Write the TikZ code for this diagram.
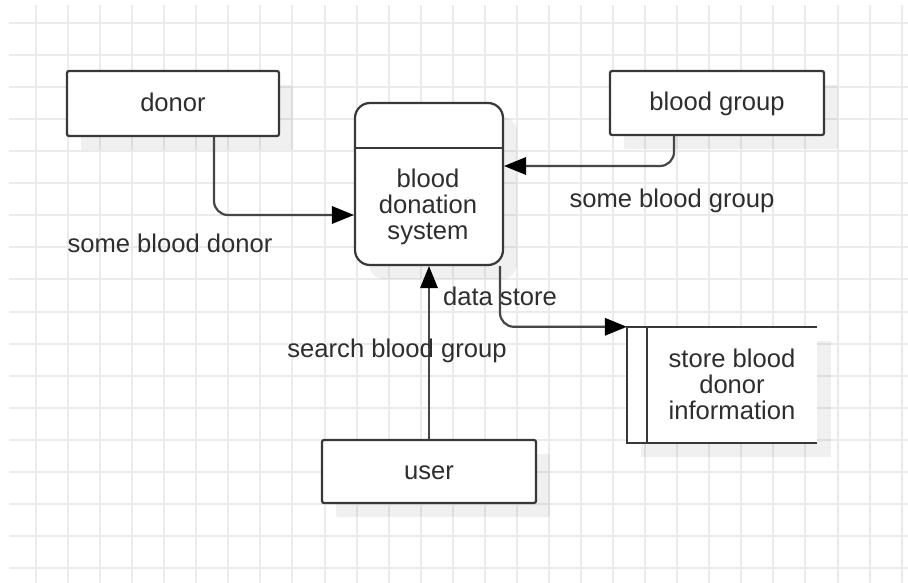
\documentclass[tikz,border=0pt]{standalone}
\usepackage{fontspec}
\setmainfont{Liberation Sans}
\usetikzlibrary{arrows.meta,shadows}

\definecolor{gridline}{HTML}{EBEBEB}
\definecolor{boxline}{HTML}{383838}
\definecolor{flowline}{HTML}{464646}
\definecolor{ink}{HTML}{2E2E2E}

\tikzset{
  txt/.style={font=\fontsize{25.6}{26}\selectfont, text=ink, inner sep=0pt},
  oneline/.style={txt, text height=21.7pt, text depth=5.9pt},
  boxshadow/.style={general shadow={shadow xshift=14pt, shadow yshift=-14pt, fill=black, opacity=0.06}},
  entity/.style={oneline, draw=boxline, line width=2.2pt, fill=white, rounded corners=2pt, boxshadow},
  flow/.style={draw=flowline, line width=2.2pt, -{Triangle[length=22pt, width=18pt, color=black, fill=black, line width=0pt]}},
}

\begin{document}
\begin{tikzpicture}[x=1pt, y=-1pt]
\useasboundingbox (0,0) rectangle (908,583);
\fill[white] (0,0) rectangle (908,583);

% background grid
\foreach \i in {0,...,27} {
  \draw[gridline, line width=2pt] ({36+32.06*\i},5) -- ({36+32.06*\i},583);
}
\foreach \j in {0,...,17} {
  \draw[gridline, line width=2pt] (9,{23+32.06*\j}) -- (908,{23+32.06*\j});
}

% external entities
\node[entity, minimum width=212pt, minimum height=65pt] (donor) at (173,103.5) {donor};
\node[entity, minimum width=214pt, minimum height=64pt] (bgroup) at (717,103) {blood group};
\node[entity, minimum width=214pt, minimum height=63pt] (user) at (429,471.5) {user};

% process
\node[draw=boxline, line width=2.2pt, fill=white, rounded corners=15pt, boxshadow,
      minimum width=148pt, minimum height=162pt] (process) at (429,184) {};
\draw[boxline, line width=2.2pt] ([yshift=-46pt]process.north west) -- ([yshift=-46pt]process.north east);
\node[txt, align=center] (proclabel) at (428,206.5) {blood\\donation\\system};

% data store (open on the right)
\node[fill=white, boxshadow, minimum width=190pt, minimum height=116pt, inner sep=0pt] (store) at (722,385) {};
\draw[boxline, line width=2.2pt] (store.north east) -- (store.north west) -- (store.south west) -- (store.south east);
\draw[boxline, line width=2.2pt] ([xshift=20pt]store.north west) -- ([xshift=20pt]store.south west);
\node[txt, align=center] (storelabel) at (732,384) {store blood\\donor\\information};

% data flows
\draw[flow, rounded corners=14pt] ([xshift=41pt]donor.south) |- ([yshift=-31pt]process.west);
\draw[flow, rounded corners=14pt] ([xshift=-43pt]bgroup.south) |- ([yshift=18pt]process.east);
\draw[flow] (user.north) -- (process.south);
\draw[flow, rounded corners=14pt] ([xshift=71pt]process.south) |- (store.north west);

% flow labels
\node[oneline] (l1) at (170,245) {some blood donor};
\node[oneline] (l2) at (672,199.5) {some blood group};
\node[oneline] (l3) at (500,297.5) {data store};
\node[oneline] (l4) at (397,350) {search blood group};
\end{tikzpicture}
\end{document}
